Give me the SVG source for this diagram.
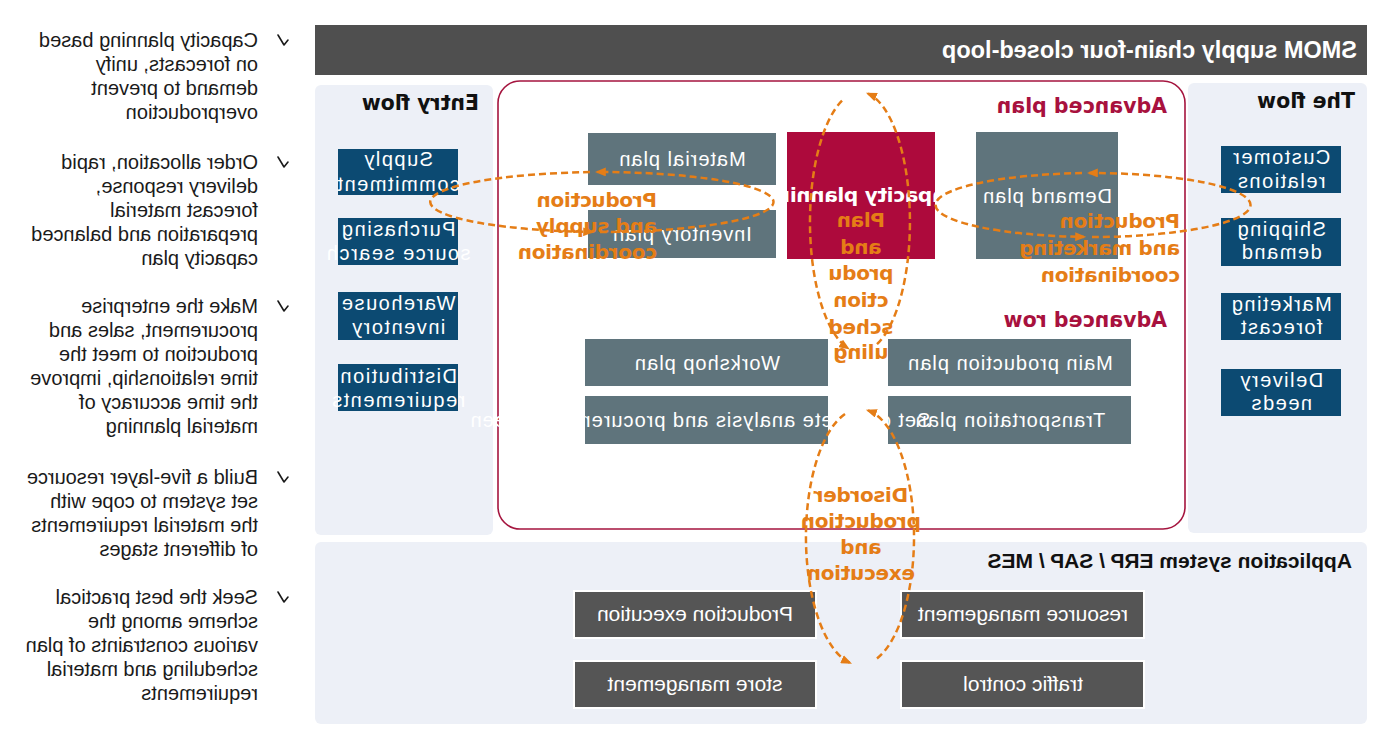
<svg xmlns="http://www.w3.org/2000/svg" width="1380" height="750" viewBox="0 0 1380 750">
<style>
.panel{fill:#edf0f7}
.bl{fill:#0c4a72}
.btx{font-family:"Liberation Sans",Arial,sans-serif;font-size:20px;fill:#fff;text-anchor:middle;letter-spacing:1.5px}
.gr{fill:#5f747c}
.gtx{font-family:"Liberation Sans",Arial,sans-serif;font-size:20px;fill:#fff;text-anchor:middle;letter-spacing:1px}
.dk{fill:#555555;stroke:#fff;stroke-width:2}
.dtx{font-family:"Liberation Sans",Arial,sans-serif;font-size:21px;fill:#fff;text-anchor:middle}
.hd{font-family:"DejaVu Sans",sans-serif;font-weight:bold;font-size:20.5px;fill:#111}
.rd{fill:#a8113e}
.org{font-family:"DejaVu Sans",sans-serif;font-weight:bold;font-size:20px;letter-spacing:-0.3px;fill:#e57d16}
.mid{text-anchor:middle}
.bul{font-family:"Liberation Sans",Arial,sans-serif;font-size:20px;fill:#1a1a1a}
.chk{fill:none;stroke:#1a1a1a;stroke-width:1.6;stroke-linecap:round;stroke-linejoin:round}
.arc{fill:none;stroke:#e57d16;stroke-width:2.5;stroke-dasharray:7 4;marker-end:url(#ah)}
</style>
<defs>
<marker id="ah" viewBox="0 0 10 8" refX="8" refY="4" markerWidth="11" markerHeight="9" markerUnits="userSpaceOnUse" orient="auto"><path d="M0,0 L10,4 L0,8 z" fill="#e57d16"/></marker>
<path id="ck" d="M0,5 L4,10 L10,0"/>
</defs>
<rect width="1380" height="750" fill="#fff"/>
<g id="diagram" transform="matrix(-1 0 0 1 1380 0)">
  <g id="title">
    <rect x="13" y="25" width="1052" height="50" fill="#4f4f4f"/>
    <text x="23" y="58" font-family="'Liberation Sans',Arial,sans-serif" font-weight="bold" font-size="23" fill="#fff" textLength="415" lengthAdjust="spacingAndGlyphs">SMOM supply chain-four closed-loop</text>
  </g>
  <g id="panels">
    <rect class="panel" x="887" y="85" width="178" height="450" rx="6"/>
    <rect class="panel" x="13" y="83" width="179" height="450" rx="6"/>
    <rect class="panel" x="13" y="542" width="1052" height="182" rx="6"/>
    <rect x="195" y="81" width="687" height="448" rx="22" fill="#fff" stroke="#a5153f" stroke-width="1.6"/>
    <text class="hd" x="901" y="110">Entry flow</text>
    <text class="hd" x="25" y="108">The flow</text>
    <text class="hd rd" x="213" y="113">Advanced plan</text>
    <text class="hd rd" x="213" y="327">Advanced row</text>
    <text x="28" y="568" font-family="'Liberation Sans',Arial,sans-serif" font-weight="bold" font-size="21" fill="#111">Application system ERP / SAP / MES</text>
  </g>
  <g id="entry-supply"><rect class="bl" x="922" y="149" width="120" height="46"/><text class="btx" x="982" y="166">Supply</text><text class="btx" x="982" y="191">commitment</text></g>
  <g id="entry-purchasing"><rect class="bl" x="922" y="218" width="120" height="47"/><text class="btx" x="982" y="236">Purchasing</text><text class="btx" x="982" y="260">source search</text></g>
  <g id="entry-warehouse"><rect class="bl" x="922" y="292" width="120" height="48"/><text class="btx" x="982" y="310">Warehouse</text><text class="btx" x="982" y="334">inventory</text></g>
  <g id="entry-distribution"><rect class="bl" x="922" y="364" width="120" height="47"/><text class="btx" x="982" y="383">Distribution</text><text class="btx" x="982" y="407">requirements</text></g>
  <g id="flow-customer"><rect class="bl" x="39" y="146" width="120" height="47"/><text class="btx" x="99" y="164">Customer</text><text class="btx" x="99" y="188">relations</text></g>
  <g id="flow-shipping"><rect class="bl" x="39" y="218" width="120" height="48"/><text class="btx" x="99" y="236">Shipping</text><text class="btx" x="99" y="259">demand</text></g>
  <g id="flow-marketing"><rect class="bl" x="39" y="293" width="120" height="47"/><text class="btx" x="99" y="311">Marketing</text><text class="btx" x="99" y="334">forecast</text></g>
  <g id="flow-delivery"><rect class="bl" x="39" y="369" width="120" height="47"/><text class="btx" x="99" y="387">Delivery</text><text class="btx" x="99" y="410">needs</text></g>
  <g id="material-plan"><rect class="gr" x="604" y="133" width="188" height="52"/><text class="gtx" x="698" y="166">Material plan</text></g>
  <g id="inventory-plan"><rect class="gr" x="604" y="210" width="188" height="48"/><text class="gtx" x="698" y="241">Inventory plan</text></g>
  <g id="capacity-planning"><rect x="445" y="132" width="148" height="127" fill="#ad0a3c"/><text class="org mid" x="519" y="202" style="fill:#fff">Capacity planning</text></g>
  <g id="demand-plan"><rect class="gr" x="262" y="132" width="142" height="127"/><text class="gtx" x="333" y="203">Demand plan</text></g>
  <g id="workshop-plan"><rect class="gr" x="552" y="339" width="243" height="47"/><text class="gtx" x="673" y="370">Workshop plan</text></g>
  <g id="main-production-plan"><rect class="gr" x="249" y="339" width="243" height="47"/><text class="gtx" x="370" y="370">Main production plan</text></g>
  <g id="set-complete"><rect class="gr" x="552" y="396" width="243" height="48"/></g>
  <g id="transportation-plan"><rect class="gr" x="249" y="396" width="243" height="48"/><text class="gtx" x="370" y="427">Transportation plan</text></g>
  <text class="gtx" x="680" y="427">Set complete analysis and procurement screen</text>
  <g id="production-execution"><rect class="dk" x="564" y="591" width="242" height="47"/><text class="dtx" x="685" y="621">Production execution</text></g>
  <g id="resource-management"><rect class="dk" x="236" y="591" width="243" height="47"/><text class="dtx" x="357" y="621">resource management</text></g>
  <g id="store-management"><rect class="dk" x="564" y="661" width="242" height="47"/><text class="dtx" x="685" y="691">store management</text></g>
  <g id="traffic-control"><rect class="dk" x="236" y="661" width="243" height="47"/><text class="dtx" x="357" y="691">traffic control</text></g>
  <g id="connectors">
    <path class="arc" d="M780,232 A175,30 0 1 1 783,172"/>
    <path class="arc" d="M790,172.1 A175,30 0 0 1 788,231.9"/>
    <path class="arc" d="M288,237 A160,32 0 1 1 291,173"/>
    <path class="arc" d="M298,173.1 A160,32 0 0 1 296,236.9"/>
    <path class="arc" d="M503,344.2 A50,130 0 0 1 512,93.7"/>
    <path class="arc" d="M538,100.7 A50,130 0 0 1 532,348.2"/>
    <path class="arc" d="M503,658.5 A54,128 0 0 1 512,410.4"/>
    <path class="arc" d="M535,414 A54,128 0 0 1 530,662.8"/>
    <text class="org" x="723" y="207">Production</text>
    <text class="org" x="723" y="233">and supply</text>
    <text class="org" x="723" y="259">coordination</text>
    <text class="org" x="200" y="228">Production</text>
    <text class="org" x="200" y="255">and marketing</text>
    <text class="org" x="200" y="282">coordination</text>
    <text class="org mid" x="519" y="227">Plan</text>
    <text class="org mid" x="519" y="254">and</text>
    <text class="org mid" x="519" y="280">produ</text>
    <text class="org mid" x="519" y="307">ction</text>
    <text class="org mid" x="519" y="334">sched</text>
    <text class="org mid" x="519" y="359">uling</text>
    <text class="org mid" x="519" y="502">Disorder</text>
    <text class="org mid" x="519" y="528">production</text>
    <text class="org mid" x="519" y="554">and</text>
    <text class="org mid" x="519" y="580">execution</text>
  </g>
  <g id="bullets">
    <use href="#ck" class="chk" x="1092" y="35"/>
    <text class="bul" x="1122" y="47">Capacity planning based</text>
    <text class="bul" x="1122" y="71">on forecasts, unify</text>
    <text class="bul" x="1122" y="95">demand to prevent</text>
    <text class="bul" x="1122" y="119">overproduction</text>
    <use href="#ck" class="chk" x="1092" y="157"/>
    <text class="bul" x="1122" y="169">Order allocation, rapid</text>
    <text class="bul" x="1122" y="193">delivery response,</text>
    <text class="bul" x="1122" y="217">forecast material</text>
    <text class="bul" x="1122" y="241">preparation and balanced</text>
    <text class="bul" x="1122" y="265">capacity plan</text>
    <use href="#ck" class="chk" x="1092" y="301"/>
    <text class="bul" x="1122" y="313">Make the enterprise</text>
    <text class="bul" x="1122" y="337">procurement, sales and</text>
    <text class="bul" x="1122" y="361">production to meet the</text>
    <text class="bul" x="1122" y="385">time relationship, improve</text>
    <text class="bul" x="1122" y="409">the time accuracy of</text>
    <text class="bul" x="1122" y="433">material planning</text>
    <use href="#ck" class="chk" x="1092" y="472"/>
    <text class="bul" x="1122" y="484">Build a five-layer resource</text>
    <text class="bul" x="1122" y="508">set system to cope with</text>
    <text class="bul" x="1122" y="532">the material requirements</text>
    <text class="bul" x="1122" y="556">of different stages</text>
    <use href="#ck" class="chk" x="1092" y="592"/>
    <text class="bul" x="1122" y="604">Seek the best practical</text>
    <text class="bul" x="1122" y="628">scheme among the</text>
    <text class="bul" x="1122" y="652">various constraints of plan</text>
    <text class="bul" x="1122" y="676">scheduling and material</text>
    <text class="bul" x="1122" y="700">requirements</text>
  </g>
</g>
</svg>
